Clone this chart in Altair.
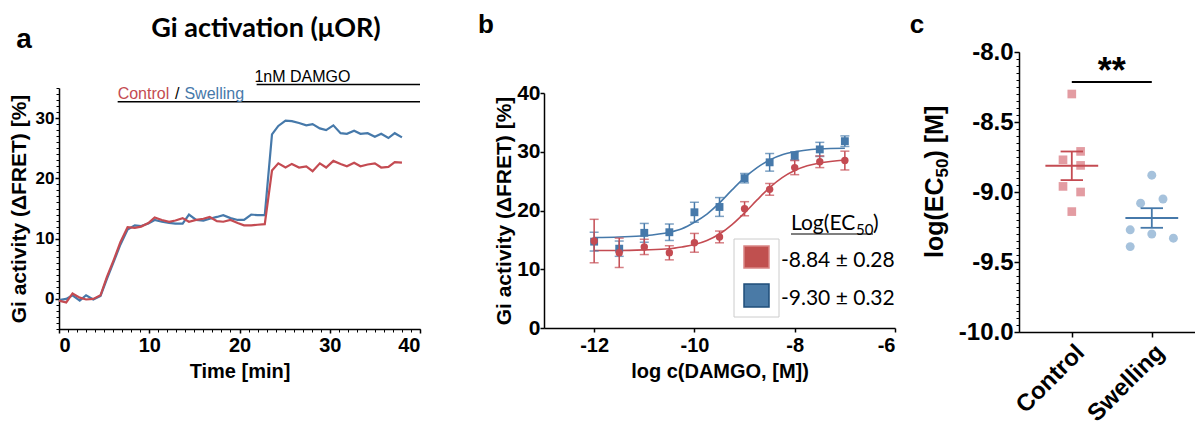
import altair as alt
import numpy as np
import pandas as pd

FONT = "Liberation Sans"
TFONT = "Lato"
RED = "#c44b52"
BLUE = "#4679aa"
RED_LIGHT = "#e39ca2"
BLUE_LIGHT = "#a6c2dc"

# ---------------- panel a : time course ----------------
time_min = [0, 0.8, 1.5, 2.3, 3.0, 3.8, 4.6, 5.3, 6.1, 6.8, 7.6, 8.4, 9.1, 9.9, 10.6, 11.4,
            12.2, 12.9, 13.7, 14.4, 15.2, 16.0, 16.7, 17.5, 18.2, 19.0, 19.8, 20.5, 21.3, 22.0,
            22.8, 23.6, 24.3, 25.1, 25.8, 26.6, 27.4, 28.1, 28.9, 29.6, 30.4, 31.2, 31.9, 32.7,
            33.4, 34.2, 35.0, 35.7, 36.5, 37.2, 38.0]
control_trace = [-0.3, -0.6, 0.9, 0.2, -0.1, 0.0, 0.6, 3.6, 6.6, 9.4, 11.9, 11.8, 12.0, 12.6,
                 13.5, 13.1, 12.8, 13.0, 13.4, 12.8, 13.1, 13.3, 13.6, 12.9, 12.8, 13.1, 12.6,
                 12.2, 12.2, 12.3, 12.4, 21.3, 22.5, 21.8, 22.4, 21.8, 22.0, 21.2, 22.5, 21.8,
                 22.9, 22.4, 22.0, 22.6, 22.0, 22.3, 22.5, 21.8, 21.9, 22.7, 22.6]
swelling_trace = [-0.2, 0.0, 0.6, -0.3, 0.6, -0.1, 0.5, 3.3, 6.3, 9.0, 11.5, 12.2, 12.1, 12.5,
                  13.1, 12.8, 12.6, 12.5, 12.5, 14.0, 13.1, 13.0, 13.3, 13.6, 13.9, 13.4, 13.1,
                  13.1, 14.0, 13.9, 13.9, 27.3, 28.7, 29.6, 29.5, 29.2, 28.8, 29.0, 28.3, 28.0,
                  28.8, 27.5, 27.4, 27.9, 27.4, 27.5, 26.9, 27.4, 26.7, 27.5, 26.8]

ann_line_start = [6.5, 21.9]
ann_line_end = [40, 40]
ann_line_level = [32.7, 35.6]
ann_labels = ["Control", "/", "Swelling", "1nM DAMGO"]
ann_label_t = [6.5, 12.85, 13.9, 21.65]
ann_label_v = [33.1, 33.1, 33.1, 36.0]
ann_label_color = [RED, "black", BLUE, "black"]

# ---------------- panel b : dose response ----------------
log_dose = [-12, -11.5, -11, -10.5, -10, -9.5, -9, -8.5, -8, -7.5, -7]
control_b = [14.8, 12.8, 13.8, 12.8, 14.5, 15.5, 20.3, 23.6, 27.3, 28.3, 28.5]
control_b_err = [3.7, 2.5, 1.3, 1.2, 1.6, 1.0, 1.2, 1.0, 1.2, 1.0, 1.6]
swelling_b = [14.7, 13.5, 16.2, 16.3, 19.7, 20.6, 25.5, 28.2, 29.3, 30.4, 31.8]
swelling_b_err = [1.6, 1.3, 1.6, 1.4, 1.7, 1.6, 0.8, 1.5, 0.7, 1.2, 0.9]

fit_x = [-12, -11.5, -11, -10.5, -10.25, -10, -9.75, -9.5, -9.25, -9, -8.75, -8.5, -8.25,
         -8, -7.75, -7.5, -7]
control_fit = [13.2, 13.2, 13.3, 13.5, 13.8, 14.2, 14.9, 16.0, 17.6, 19.6, 21.8, 23.9, 25.6,
               26.8, 27.6, 28.1, 28.6]
swelling_fit = [15.4, 15.5, 15.7, 16.3, 16.9, 18.0, 19.4, 21.3, 23.5, 25.6, 27.3, 28.6, 29.5,
                30.0, 30.3, 30.5, 30.6]
legend_header = ["Log(EC", "50", ")"]
legend_values = ["-8.84 \u00b1 0.28", "-9.30 \u00b1 0.32"]

# ---------------- panel c : EC50 scatter ----------------
groups = ["Control", "Swelling"]
control_ec50 = [-8.30, -8.71, -8.77, -8.81, -8.96, -9.00, -9.14]
control_jitter = [0, 0.11, -0.11, 0.11, -0.11, 0.11, 0]
swelling_ec50 = [-8.88, -9.08, -9.05, -9.27, -9.30, -9.33, -9.39]
swelling_jitter = [0, -0.14, 0.14, -0.27, 0, 0.27, -0.27]
y_title_c = ["log(EC", "50", ") [M]"]
signif_label = ["**"]
signif_level = -8.214

W_A, W_B, W_C, H = 361, 351, 176, 280
HYPHEN_LABEL = "'' + datum.value"


def ax(**kw):
    base = dict(labelFont=FONT, labelFontWeight="bold", titleFont=FONT, titleFontWeight="bold",
                labelColor="black", titleColor="black", domainColor="black", tickColor="black",
                domainWidth=1.5, tickWidth=1.5, grid=False)
    base.update(kw)
    return alt.Axis(**base)


def minor(values, orient, **kw):
    return alt.Axis(values=values, orient=orient, labels=False, domain=False, title=None,
                    tickSize=3, tickWidth=1, tickColor="black", grid=False, **kw)


def label_chart(text, x, y, size, font=TFONT, weight="bold", align="center", color="black", angle=0):
    mk = dict(font=font, fontWeight=weight, fontSize=size, align=align, baseline="alphabetic", color=color)
    if angle:
        mk["angle"] = angle
    return alt.Chart(pd.DataFrame({"label": [text]})).mark_text(**mk).encode(
        x=alt.value(x), y=alt.value(y), text="label:N")


one = pd.DataFrame({"k": [0]})

# ======== panel a ========
df_ctrl_a = pd.DataFrame({"t": time_min, "v": control_trace})
df_sw_a = pd.DataFrame({"t": time_min, "v": swelling_trace})
xs_a = alt.Scale(domain=[0, 40], nice=False, zero=False)
ys_a = alt.Scale(domain=[-5, 35], range=[277, 36], nice=False, zero=False)

main_a = alt.Chart(df_sw_a).mark_line(color=BLUE, strokeWidth=2.2).encode(
    x=alt.X("t:Q", scale=xs_a, axis=ax(values=[0, 10, 20, 30, 40], title="Time [min]", orient="bottom",
                                       labelFontSize=20, titleFontSize=20, tickSize=4,
                                       labelPadding=2, titlePadding=6, offset=-3)),
    y=alt.Y("v:Q", scale=ys_a, axis=ax(values=[0, 10, 20, 30], title="Gi activity (\u0394FRET) [%]",
                                       orient="left", labelFontSize=17, titleFontSize=21,
                                       tickSize=4, labelPadding=1, titlePadding=6)),
)
red_a = alt.Chart(df_ctrl_a).mark_line(color=RED, strokeWidth=2.2).encode(
    x=alt.X("t:Q", scale=xs_a, axis=None), y=alt.Y("v:Q", scale=ys_a, axis=None))
minor_a = alt.Chart(df_ctrl_a).mark_point(opacity=0).encode(
    x=alt.X("t:Q", scale=xs_a, axis=minor(list(range(0, 41)), "bottom", offset=-3)),
    y=alt.Y("v:Q", scale=ys_a, axis=minor(list(range(-5, 36)), "left")))
rules_a = alt.Chart(pd.DataFrame({"x1": ann_line_start, "x2": ann_line_end, "y": ann_line_level})).mark_rule(
    color="black", strokeWidth=1.5).encode(
    x=alt.X("x1:Q", scale=xs_a, axis=None), x2="x2:Q", y=alt.Y("y:Q", scale=ys_a, axis=None))
text_a = alt.Chart(pd.DataFrame({"label": ann_labels, "t": ann_label_t, "v": ann_label_v,
                                 "c": ann_label_color})).mark_text(
    align="left", baseline="alphabetic", font=FONT, fontSize=16).encode(
    x=alt.X("t:Q", scale=xs_a, axis=None), y=alt.Y("v:Q", scale=ys_a, axis=None),
    text="label:N", color=alt.Color("c:N", scale=None))
title_a = label_chart("Gi activation (\u03bcOR)", 207, -15, 27)
letter_a = label_chart("a", -35, -4, 28, font=FONT)

panel_a = alt.layer(main_a, minor_a, red_a, rules_a, text_a, title_a, letter_a).resolve_axis(
    x="independent", y="independent").properties(width=W_A, height=H)

# ======== panel b ========
xs_b = alt.Scale(domain=[-13, -6], nice=False, zero=False)
ys_b = alt.Scale(domain=[0, 40], range=[276, 41], nice=False, zero=False)


def dose_df(vals, errs):
    return pd.DataFrame({"x": log_dose, "v": vals,
                         "lo": [v - e for v, e in zip(vals, errs)],
                         "hi": [v + e for v, e in zip(vals, errs)]})


df_cb = dose_df(control_b, control_b_err)
df_sb = dose_df(swelling_b, swelling_b_err)
df_fit_c = pd.DataFrame({"x": fit_x, "v": control_fit})
df_fit_s = pd.DataFrame({"x": fit_x, "v": swelling_fit})


def XB(f="x:Q"):
    return alt.X(f, scale=xs_b, axis=None)


def YB(f):
    return alt.Y(f, scale=ys_b, axis=None)


fit_s = alt.Chart(df_fit_s).mark_line(color=BLUE, strokeWidth=1.6, interpolate="monotone").encode(
    x=alt.X("x:Q", scale=xs_b, axis=ax(values=[-12, -10, -8, -6], title="log c(DAMGO, [M])", orient="bottom",
                                       labelExpr=HYPHEN_LABEL, labelFontSize=20, titleFontSize=20,
                                       tickSize=4, labelPadding=3, titlePadding=6, offset=-4)),
    y=alt.Y("v:Q", scale=ys_b, axis=ax(values=[0, 10, 20, 30, 40], title="Gi activity (\u0394FRET) [%]",
                                       orient="left", labelFontSize=21, titleFontSize=21, tickSize=4,
                                       labelPadding=0, titlePadding=2)))
fit_c = alt.Chart(df_fit_c).mark_line(color=RED, strokeWidth=1.6, interpolate="monotone").encode(
    x=XB(), y=YB("v:Q"))


def err_layers(df, color, shape, size):
    bar = alt.Chart(df).mark_rule(color=color, strokeWidth=1.5).encode(x=XB(), y=YB("lo:Q"), y2="hi:Q")
    cap_lo = alt.Chart(df).mark_tick(color=color, size=9, thickness=1.5, orient="horizontal").encode(
        x=XB(), y=YB("lo:Q"))
    cap_hi = alt.Chart(df).mark_tick(color=color, size=9, thickness=1.5, orient="horizontal").encode(
        x=XB(), y=YB("hi:Q"))
    pts = alt.Chart(df).mark_point(shape=shape, filled=True, size=size, color=color, opacity=1).encode(
        x=XB(), y=YB("v:Q"))
    return [bar, cap_lo, cap_hi, pts]


legend_box = alt.Chart(one).mark_rect(fill="white", stroke="#cccccc", strokeWidth=1).encode(
    x=alt.value(190), x2=alt.value(235), y=alt.value(187), y2=alt.value(265))
sw_red = alt.Chart(one).mark_rect(fill="#c0504f", stroke="#d98585", strokeWidth=1.5).encode(
    x=alt.value(200), x2=alt.value(225), y=alt.value(194), y2=alt.value(216))
sw_blue = alt.Chart(one).mark_rect(fill="#4a7aa6", stroke="#1f4e7a", strokeWidth=1.5).encode(
    x=alt.value(200), x2=alt.value(225), y=alt.value(232), y2=alt.value(255))
leg_txt1 = label_chart(legend_values[0], 237, 215, 21, weight="normal", align="left")
leg_txt2 = label_chart(legend_values[1], 237, 253, 21, weight="normal", align="left")
leg_head1 = label_chart(legend_header[0], 247, 178, 21, weight="normal", align="left")
leg_head2 = label_chart(legend_header[1], 312, 183, 15, weight="normal", align="left")
leg_head3 = label_chart(legend_header[2], 329, 178, 21, weight="normal", align="left")
leg_line = alt.Chart(one).mark_rule(color="black", strokeWidth=1.2).encode(
    x=alt.value(247), x2=alt.value(329), y=alt.value(182))
letter_b = label_chart("b", -58, -19, 26, font=FONT)

panel_b = alt.layer(
    fit_s, fit_c,
    *err_layers(df_sb, BLUE, "square", 62),
    *err_layers(df_cb, RED, "circle", 55),
    legend_box, sw_red, sw_blue, leg_txt1, leg_txt2, leg_head1, leg_head2, leg_head3, leg_line, letter_b
).resolve_axis(x="independent", y="independent").properties(width=W_B, height=H)

# ======== panel c ========
xs_c = alt.Scale(domain=[0.34, 2.54], nice=False, zero=False)
ys_c = alt.Scale(domain=[-10, -8], nice=False, zero=False)

df_ctrl_c = pd.DataFrame({"x": [1 + j for j in control_jitter], "v": control_ec50})
df_sw_c = pd.DataFrame({"x": [2 + j for j in swelling_jitter], "v": swelling_ec50})

rows = []
for i, (vals, col) in enumerate([(control_ec50, RED), (swelling_ec50, BLUE)]):
    arr = np.array(vals)
    m = arr.mean()
    s = arr.std(ddof=1) / np.sqrt(len(arr))
    g = i + 1
    rows.append({"g": g, "m": m, "lo": m - s, "hi": m + s, "ml": g - 0.33, "mr": g + 0.33,
                 "cl": g - 0.14, "cr": g + 0.14, "col": col})
stats = pd.DataFrame(rows)

label_expr = "['%s','%s'][datum.value - 1]" % (groups[0], groups[1])
y_label_expr = "datum.value % 1 == 0 ? datum.value + '.0' : '' + datum.value"


def XC(f):
    return alt.X(f, scale=xs_c, axis=None)


def YC(f):
    return alt.Y(f, scale=ys_c, axis=None)


pts_ctrl_c = alt.Chart(df_ctrl_c).mark_point(shape="square", filled=True, size=75, color=RED_LIGHT,
                                             opacity=1).encode(
    x=alt.X("x:Q", scale=xs_c, axis=ax(values=[1, 2], labelExpr=label_expr, title=None, orient="bottom",
                                       labelAngle=315, labelFontSize=24, tickSize=5, labelPadding=3)),
    y=alt.Y("v:Q", scale=ys_c, axis=ax(values=[-10, -9.5, -9, -8.5, -8], labelExpr=y_label_expr,
                                       title=None, orient="left",
                                       labelFontSize=24, tickSize=5, labelPadding=1)))
pts_sw_c = alt.Chart(df_sw_c).mark_point(shape="circle", filled=True, size=80, color=BLUE_LIGHT,
                                         opacity=1).encode(x=XC("x:Q"), y=YC("v:Q"))
minor_c = alt.Chart(df_ctrl_c).mark_point(opacity=0).encode(
    x=XC("x:Q"),
    y=alt.Y("v:Q", scale=ys_c, axis=minor([round(-10 + 0.05 * k, 2) for k in range(41)], "left")))
mean_c = alt.Chart(stats).mark_rule(strokeWidth=2).encode(
    x=XC("ml:Q"), x2="mr:Q", y=YC("m:Q"), color=alt.Color("col:N", scale=None))
sem_c = alt.Chart(stats).mark_rule(strokeWidth=1.8).encode(
    x=XC("g:Q"), y=YC("lo:Q"), y2="hi:Q", color=alt.Color("col:N", scale=None))
cap_lo_c = alt.Chart(stats).mark_rule(strokeWidth=1.8).encode(
    x=XC("cl:Q"), x2="cr:Q", y=YC("lo:Q"), color=alt.Color("col:N", scale=None))
cap_hi_c = alt.Chart(stats).mark_rule(strokeWidth=1.8).encode(
    x=XC("cl:Q"), x2="cr:Q", y=YC("hi:Q"), color=alt.Color("col:N", scale=None))
sig_df = pd.DataFrame({"x1": [1], "x2": [2], "xm": [1.5], "y": [signif_level], "label": signif_label})
sig_line = alt.Chart(sig_df).mark_rule(color="black", strokeWidth=2).encode(
    x=XC("x1:Q"), x2="x2:Q", y=YC("y:Q"))
sig_text = alt.Chart(sig_df).mark_text(font=FONT, fontWeight="bold", fontSize=36, align="center",
                                       baseline="alphabetic", dy=1, color="black").encode(
    x=XC("xm:Q"), y=YC("y:Q"), text="label:N")
ytitle_c1 = label_chart(y_title_c[0], -76, 206, 25, font=FONT, align="left", angle=270)
ytitle_c2 = label_chart(y_title_c[1], -71, 125.5, 17, font=FONT, align="left", angle=270)
ytitle_c3 = label_chart(y_title_c[2], -76, 106.5, 25, font=FONT, align="left", angle=270)
letter_c = label_chart("c", -102, -19, 26, font=FONT)

panel_c = alt.layer(pts_ctrl_c, minor_c, pts_sw_c, mean_c, sem_c, cap_lo_c, cap_hi_c,
                    sig_line, sig_text, ytitle_c1, ytitle_c2, ytitle_c3, letter_c).resolve_axis(
    x="independent", y="independent").properties(width=W_C, height=H)

chart = alt.hconcat(panel_a, panel_b, panel_c, spacing=124, bounds="flush").properties(
    padding={"left": 0, "top": 4, "right": 0, "bottom": 0}
).configure_view(strokeWidth=0, stroke="transparent")

chart.save("out.html", embed_options={"renderer": "svg", "actions": False})
